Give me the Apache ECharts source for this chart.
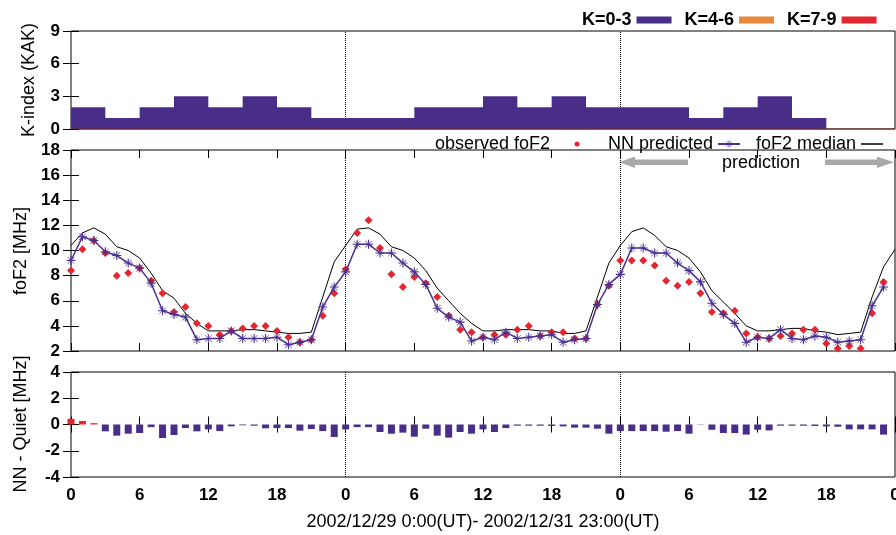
<!DOCTYPE html>
<html>
<head>
<meta charset="utf-8">
<script src="https://cdn.jsdelivr.net/npm/echarts@6/dist/echarts.min.js"></script>
<style>
html,body{margin:0;padding:0;background:#ffffff;}
#chart{width:896px;height:535px;}
</style>
</head>
<body>
<div id="chart"></div>
<script>
// ---------------- data ----------------
// K-index (KAK), one value per 3-hour block, 2002/12/29 00UT .. 2002/12/31 24UT
const kIndex = [2,1,2,3,2,3,2,1, 1,1,2,2,3,2,3,2, 2,2,1,2,3,1,0,0];

// hourly values, hour 0 .. 71
const observedFoF2 = [
  8.4,10.1,10.8,9.8,8.0,8.2,8.6,7.6,6.6,5.1,5.5,4.2,4.0,3.3,3.6,3.8,4.0,4.0,3.6,3.1,2.7,2.9,4.8,6.6,
  8.5,11.4,12.4,10.2,8.1,7.1,7.9,7.4,6.3,4.8,3.7,3.5,3.1,3.3,3.3,3.7,4.0,3.2,3.5,3.5,3.0,3.0,5.7,7.2,
  9.2,9.2,9.2,8.8,7.6,7.2,7.5,6.6,5.1,5.0,5.2,3.4,3.1,3.0,3.2,3.4,3.7,3.7,2.6,2.2,2.4,2.2,5.0,7.5
];
const nnPredicted = [
  9.2,11.1,10.8,9.9,9.6,9.0,8.6,7.4,5.2,4.9,4.7,2.9,3.0,3.0,3.6,3.0,3.0,3.0,3.1,2.5,2.7,2.9,5.5,7.1,
  8.3,10.5,10.5,9.8,9.8,9.0,8.3,7.3,5.4,4.7,4.3,2.8,3.1,2.9,3.5,3.0,3.1,3.2,3.3,2.7,2.9,3.0,5.7,7.3,
  8.1,10.2,10.2,9.8,9.8,9.0,8.4,7.5,5.8,4.9,4.2,2.7,3.1,3.0,3.7,3.0,2.9,3.2,3.1,2.7,2.8,2.9,5.6,7.1
];
// hour 0 .. 72
const foF2Median = [
  10.4,11.4,11.8,11.3,10.3,10.0,9.4,8.2,6.8,6.2,5.0,4.2,3.6,3.6,3.6,3.7,3.7,3.6,3.5,3.4,3.4,3.5,6.3,9.1,
  10.4,11.7,11.8,11.3,10.3,10.0,9.4,8.4,7.0,6.0,5.0,4.2,3.6,3.6,3.7,3.7,3.7,3.6,3.6,3.4,3.4,3.6,6.3,9.0,
  10.4,11.5,11.8,11.2,10.3,10.0,9.4,8.3,6.8,5.9,5.0,4.0,3.6,3.6,3.7,3.8,3.8,3.6,3.5,3.3,3.4,3.5,6.3,8.7,10.1
];
// NN - Quiet [MHz], hour 0 .. 71
const nnMinusQuiet = [
  0.44,0.27,0.10,-0.52,-0.85,-0.70,-0.65,-0.20,-1.03,-0.80,-0.27,-0.52,-0.37,-0.50,-0.14,-0.06,-0.09,-0.29,-0.27,-0.27,-0.47,-0.34,-0.50,-0.95,
  -0.37,-0.20,-0.20,-0.57,-0.70,-0.62,-0.93,-0.32,-0.85,-1.00,-0.57,-0.70,-0.37,-0.57,-0.27,-0.09,-0.09,-0.09,-0.11,-0.14,-0.24,-0.24,-0.32,-0.70,
  -0.50,-0.50,-0.50,-0.50,-0.55,-0.50,-0.70,-0.02,-0.40,-0.65,-0.65,-0.77,-0.40,-0.45,-0.09,-0.09,-0.09,-0.11,-0.14,-0.17,-0.37,-0.37,-0.37,-0.77
];
const hourTickLabels = ['0','6','12','18','0','6','12','18','0','6','12','18','0'];
const kLegendNames = ['K=0-3','K=4-6','K=7-9'];
const dayBoundaries = [24, 48];

// ---------------- styling ----------------
const PURPLE = '#482e88';
const STARPURPLE = '#4a3090';
const ORANGE = '#e8883a';
const RED = '#e3262f';
const FONT = 'Liberation Sans, Arial, Helvetica, sans-serif';

const kStep = kIndex.map((k, i) => [i * 3, k]);
kStep.push([72, kIndex[kIndex.length - 1]]);
const obsData = observedFoF2.map((v, h) => [h, v]);
const nnData = nnPredicted.map((v, h) => [h, v]);
const medData = foF2Median.map((v, h) => [h, v]);
const barData = nnMinusQuiet.map((v, h) => ({
  value: [h, v],
  itemStyle: { color: v > 0 ? RED : PURPLE }
}));

const STAR = 'path://M8.8 0L11.2 0L11.2 20L8.8 20ZM0 8.8L20 8.8L20 11.2L0 11.2ZM2.1 3.0L3.0 2.1L17.9 17.0L17.0 17.9ZM17.0 2.1L17.9 3.0L3.0 17.9L2.1 17.0Z';

const grids = [
  { left: 71, right: 1, top: 31, height: 98 },
  { left: 71, right: 1, top: 150, height: 201 },
  { left: 71, right: 1, top: 372, height: 105 }
].map(g => Object.assign(g, {
  show: true, borderColor: '#000', borderWidth: 1, backgroundColor: 'transparent',
  containLabel: false, outerBoundsMode: 'none'
}));

function xAxisFor(gridIndex, position, showLabels, showTicks) {
  return {
    type: 'value', gridIndex, position, min: 0, max: 72, interval: 6,
    axisLine: { show: false },
    splitLine: { show: false },
    axisTick: { show: showTicks, inside: true, length: 8, lineStyle: { color: '#000', width: 1 } },
    axisLabel: {
      show: showLabels, margin: 10, fontSize: 17, fontWeight: 'bold', color: '#000', fontFamily: FONT,
      showMinLabel: true, showMaxLabel: true, hideOverlap: false,
      formatter: v => hourTickLabels[Math.round(v / 6)]
    }
  };
}
function yAxisFor(gridIndex, position, min, max, interval, showLabels) {
  return {
    type: 'value', gridIndex, position, min, max, interval,
    axisLine: { show: false },
    splitLine: { show: false },
    axisTick: { show: true, inside: true, length: 8, lineStyle: { color: '#000', width: 1 } },
    axisLabel: {
      show: showLabels, margin: 11, fontSize: 17, fontWeight: 'bold', color: '#000', fontFamily: FONT,
      showMinLabel: true, showMaxLabel: true, hideOverlap: false
    }
  };
}

const dotted = {
  silent: true, symbol: 'none', z: 1,
  label: { show: false },
  lineStyle: { type: 'dotted', color: '#000', width: 1 },
  data: dayBoundaries.map(h => ({ xAxis: h }))
};

const legendBase = {
  orient: 'horizontal', padding: 0, selectedMode: false, align: 'right',
  textStyle: { fontSize: 18, color: '#000', fontFamily: FONT }
};

const option = {
  animation: false,
  backgroundColor: '#ffffff',
  grid: grids,
  xAxis: [
    xAxisFor(0, 'bottom', false, false), xAxisFor(0, 'top', false, false),
    xAxisFor(1, 'bottom', false, true), xAxisFor(1, 'top', false, true),
    xAxisFor(2, 'bottom', true, true), xAxisFor(2, 'top', false, true)
  ],
  yAxis: [
    yAxisFor(0, 'left', 0, 9, 3, true), yAxisFor(0, 'right', 0, 9, 3, false),
    yAxisFor(1, 'left', 2, 18, 2, true), yAxisFor(1, 'right', 2, 18, 2, false),
    yAxisFor(2, 'left', -4, 4, 2, true), yAxisFor(2, 'right', -4, 4, 2, false)
  ],
  legend: [
    Object.assign({}, legendBase, {
      left: 582, top: 11, itemWidth: 35, itemHeight: 7, itemGap: 13, icon: 'rect',
      textStyle: { fontSize: 18, fontWeight: 'bold', color: '#000', fontFamily: FONT },
      data: [
        { name: kLegendNames[0], itemStyle: { color: PURPLE } },
        { name: kLegendNames[1], itemStyle: { color: ORANGE } },
        { name: kLegendNames[2], itemStyle: { color: RED } }
      ]
    }),
    Object.assign({}, legendBase, {
      left: 435, top: 135, itemWidth: 44, itemHeight: 5,
      data: [{ name: 'observed foF2', icon: 'circle' }]
    }),
    Object.assign({}, legendBase, {
      left: 608, top: 135, itemWidth: 22, itemHeight: 9,
      data: ['NN predicted']
    }),
    Object.assign({}, legendBase, {
      left: 756, top: 135, itemWidth: 22, itemHeight: 1.5,
      data: [{ name: 'foF2 median', icon: 'rect', itemStyle: { color: '#000' } }]
    })
  ],
  graphic: [
    { type: 'text', x: 29, y: 80, rotation: Math.PI / 2,
      style: { text: 'K-index (KAK)', font: '18px ' + FONT, fill: '#000', align: 'center', verticalAlign: 'middle' } },
    { type: 'text', x: 21, y: 251, rotation: Math.PI / 2,
      style: { text: 'foF2 [MHz]', font: '18px ' + FONT, fill: '#000', align: 'center', verticalAlign: 'middle' } },
    { type: 'text', x: 21, y: 424, rotation: Math.PI / 2,
      style: { text: 'NN - Quiet [MHz]', font: '18px ' + FONT, fill: '#000', align: 'center', verticalAlign: 'middle' } },
    { type: 'text', x: 483, y: 522,
      style: { text: '2002/12/29 0:00(UT)- 2002/12/31 23:00(UT)', font: '18px ' + FONT, fill: '#000', align: 'center', verticalAlign: 'middle' } },
    { type: 'text', x: 761, y: 163,
      style: { text: 'prediction', font: '18px ' + FONT, fill: '#000', align: 'center', verticalAlign: 'middle' } },
    { type: 'polygon', shape: { points: [[688,159.5],[635,159.5],[635,156.5],[619,162.3],[635,168],[635,165],[688,165]] },
      style: { fill: '#a9a9a9' } },
    { type: 'polygon', shape: { points: [[825,159.5],[877,159.5],[877,156.5],[894,162.3],[877,168],[877,165],[825,165]] },
      style: { fill: '#a9a9a9' } }
  ],
  series: [
    { name: 'dayline0', type: 'line', xAxisIndex: 0, yAxisIndex: 0, data: [], z: 1, markLine: dotted },
    { name: kLegendNames[0], type: 'line', xAxisIndex: 0, yAxisIndex: 0, step: 'end', data: kStep,
      symbol: 'none', z: 3, itemStyle: { color: PURPLE },
      lineStyle: { width: 0, color: PURPLE }, areaStyle: { color: PURPLE, opacity: 1 } },
    { name: kLegendNames[1], type: 'line', xAxisIndex: 0, yAxisIndex: 0, data: [], symbol: 'none',
      itemStyle: { color: ORANGE }, lineStyle: { color: ORANGE } },
    { name: kLegendNames[2], type: 'line', xAxisIndex: 0, yAxisIndex: 0, data: [[0, 0], [72, 0]], symbol: 'none', z: 4,
      itemStyle: { color: RED }, lineStyle: { color: '#7a1d28', width: 1 } },

    { name: 'dayline1', type: 'line', xAxisIndex: 2, yAxisIndex: 2, data: [], z: 1, markLine: dotted },
    { name: 'foF2 median', type: 'line', xAxisIndex: 2, yAxisIndex: 2, data: medData, symbol: 'none', z: 2,
      itemStyle: { color: '#000' }, lineStyle: { color: '#000', width: 1 } },
    { name: 'observed foF2', type: 'scatter', xAxisIndex: 2, yAxisIndex: 2, data: obsData,
      symbol: 'diamond', symbolSize: 8, z: 3, itemStyle: { color: RED, opacity: 1 } },
    { name: 'NN predicted', type: 'line', xAxisIndex: 2, yAxisIndex: 2, data: nnData, z: 4,
      symbol: STAR, symbolSize: 9, showSymbol: true,
      itemStyle: { color: STARPURPLE }, lineStyle: { color: STARPURPLE, width: 1.5 } },

    { name: 'dayline2', type: 'line', xAxisIndex: 4, yAxisIndex: 4, data: [], z: 1, markLine: dotted },
    { name: 'NN - Quiet', type: 'bar', xAxisIndex: 4, yAxisIndex: 4, data: barData, barWidth: 7, z: 3 }
  ]
};

const chart = echarts.init(document.getElementById('chart'), null, { renderer: 'canvas' });
chart.setOption(option);
</script>
</body>
</html>
